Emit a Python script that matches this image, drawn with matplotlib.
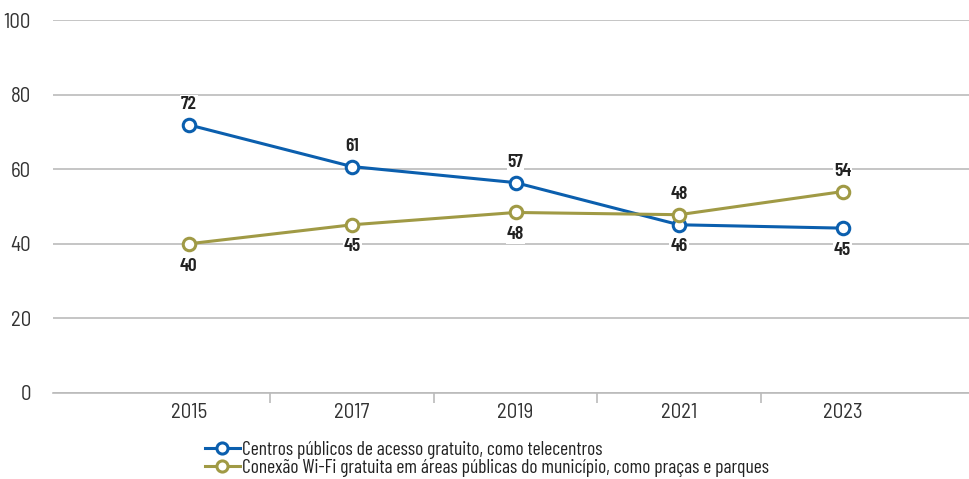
import matplotlib
matplotlib.use("Agg")
import matplotlib.pyplot as plt
from matplotlib.lines import Line2D

plt.rcParams['font.family'] = ['Barlow Condensed', 'DejaVu Sans']

years = ["2015", "2017", "2019", "2021", "2023"]
centros = [71.9, 60.7, 56.4, 45.1, 44.2]
centros_labels = ["72", "61", "57", "46", "45"]
centros_pos = ["above", "above", "above", "below", "below"]
wifi = [40.0, 45.1, 48.4, 47.8, 54.0]
wifi_labels = ["40", "45", "48", "48", "54"]
wifi_pos = ["below", "below", "below", "above", "above"]
series_names = ["Centros públicos de acesso gratuito, como telecentros",
                "Conexão Wi-Fi gratuita em áreas públicas do município, como praças e parques"]

blue = "#0B5FAE"
olive = "#A09A45"
tick_font = ['Barlow Semi Condensed', 'DejaVu Sans']

fig = plt.figure(figsize=(9.70, 4.79), dpi=100)
ax = fig.add_axes([53/970, (479-393)/479, (970-53)/970, (393-20)/479])

x = list(range(len(years)))
for vals, labs, pos, col in [(centros, centros_labels, centros_pos, blue),
                             (wifi, wifi_labels, wifi_pos, olive)]:
    ax.plot(x, vals, color=col, lw=2.2, marker='o', ms=9, mfc='white',
            mec=col, mew=2.2, zorder=3)
    for xi, v, l, p in zip(x, vals, labs, pos):
        off = 14.5 if p == "above" else -16
        ax.annotate(l, (xi, v), xytext=(0, off), textcoords='offset points',
                    ha='center', va='center', fontsize=14, fontweight='semibold',
                    color='#222222', zorder=4,
                    bbox=dict(boxstyle='square,pad=0.05', fc='white', ec='none'))

ax.set_ylim(0, 100)
ax.set_xlim(-0.83, 4.78)
ax.set_yticks([0, 20, 40, 60, 80, 100])
ax.yaxis.grid(True, color='#BBBBBB', lw=1.2)
ax.set_axisbelow(True)
for s in ['top', 'right', 'left']:
    ax.spines[s].set_visible(False)
ax.spines['bottom'].set_color('#BBBBBB')
ax.spines['bottom'].set_linewidth(1.2)
ax.set_xticks(x)
ax.set_xticklabels(years)
ax.set_xticks([0.5, 1.5, 2.5, 3.5], minor=True)
ax.tick_params(axis='x', which='major', length=0, pad=7, labelsize=15, labelcolor='#333333')
ax.tick_params(axis='x', which='minor', length=7, color='#BBBBBB', width=1.2)
ax.tick_params(axis='y', length=0, pad=16, labelsize=15, labelcolor='#333333')
for t in ax.get_xticklabels() + ax.get_yticklabels():
    t.set_family(tick_font)

handles = [Line2D([0], [0], color=blue, lw=2.2, marker='o', ms=8, mfc='white', mec=blue, mew=2.2),
           Line2D([0], [0], color=olive, lw=2.2, marker='o', ms=8, mfc='white', mec=olive, mew=2.2)]
fig.legend(handles, series_names, loc='upper left', bbox_to_anchor=(195/970, 1-431/479),
           frameon=False, fontsize=14, handlelength=1.8, handletextpad=0.1,
           labelspacing=0.0, borderpad=0, labelcolor='#222222')

fig.savefig("out.png", dpi=100)
